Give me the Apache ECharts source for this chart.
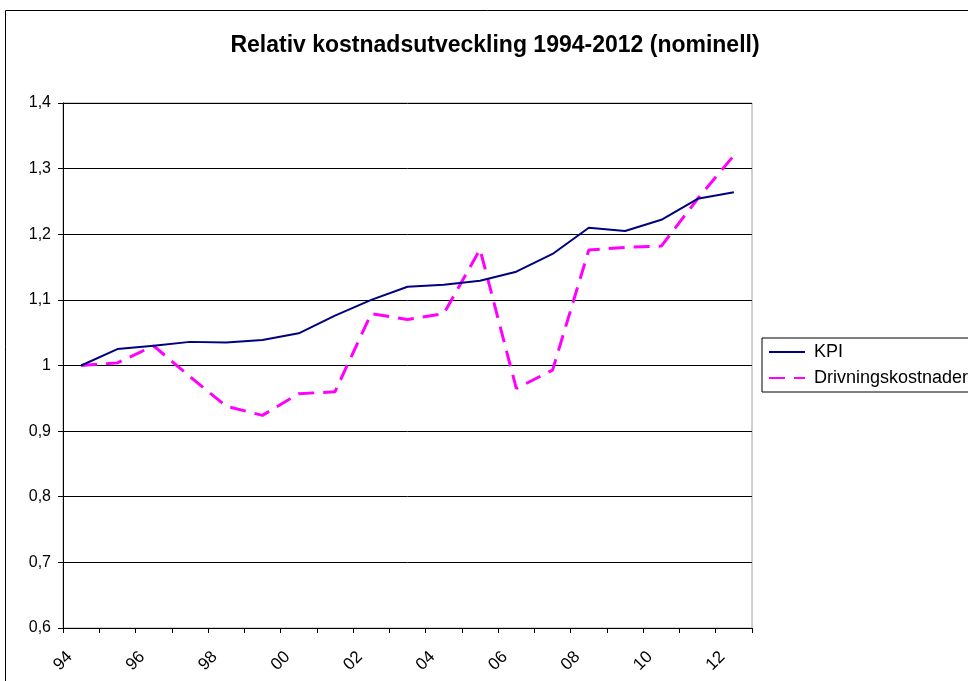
<!DOCTYPE html>
<html>
<head>
<meta charset="utf-8">
<script src="https://cdn.jsdelivr.net/npm/echarts@6/dist/echarts.min.js"></script>
<style>
html, body { margin: 0; padding: 0; background: #fff; }
#chart { width: 968px; height: 681px; }
</style>
</head>
<body>
<div id="chart"></div>
<script>
// years 1994-2012, one point per year
var years = ['94','95','96','97','98','99','00','01','02','03','04','05','06','07','08','09','10','11','12'];
// every other year is labelled on the x axis
var tickLabels = ['94','96','98','00','02','04','06','08','10','12'];

var kpi = [1.000, 1.025, 1.030, 1.036, 1.035, 1.039, 1.049, 1.076, 1.100, 1.120,
	1.123, 1.129, 1.143, 1.170, 1.210, 1.205, 1.222, 1.254, 1.264];
var drivning = [1.000, 1.004, 1.030, 0.983, 0.938, 0.924, 0.957, 0.960, 1.079, 1.070,
	1.079, 1.177, 0.965, 0.993, 1.176, 1.180, 1.182, 1.254, 1.320];

function toPoints(values) {
	// place each year in the middle of its slot
	return values.map(function (v, i) { return [i + 0.5, v]; });
}

var font = "'Liberation Sans', Arial, sans-serif";
var chart = echarts.init(document.getElementById('chart'));

chart.setOption({
	animation: false,
	backgroundColor: '#fff',
	textStyle: { fontFamily: font },
	title: {
		text: 'Relativ kostnadsutveckling 1994-2012 (nominell)',
		left: 490,
		textAlign: 'center',
		top: 29,
		textStyle: { fontFamily: font, fontSize: 23, fontWeight: 'bold', color: '#000' }
	},
	graphic: [{
		type: 'rect',
		shape: { x: 5.5, y: 10.5, width: 1000, height: 700 },
		style: { fill: 'none', stroke: '#000', lineWidth: 1 },
		silent: true
	}],
	grid: {
		left: 63, right: 216, top: 103, bottom: 53,
		show: true, borderColor: '#a0a0a0', borderWidth: 1
	},
	legend: {
		orient: 'vertical',
		left: 762,
		top: 338,
		padding: [5, 6, 5, 6],
		itemGap: 8,
		itemWidth: 36,
		itemHeight: 14,
		borderColor: '#000',
		borderWidth: 1,
		borderRadius: 0,
		itemStyle: { color: 'rgba(0,0,0,0)', borderWidth: 0, opacity: 0 },
		textStyle: { fontFamily: font, fontSize: 18, color: '#000', padding: [0, 0, 0, 4] },
		data: ['KPI', 'Drivningskostnader']
	},
	xAxis: {
		type: 'value',
		min: 0,
		max: years.length,
		interval: 1,
		axisLine: { show: true, lineStyle: { color: '#000', width: 1 } },
		axisTick: { show: true, length: 5, lineStyle: { color: '#000' } },
		splitLine: { show: false },
		axisLabel: {
			rotate: 45,
			align: 'center',
			verticalAlign: 'middle',
			margin: 33,
			fontFamily: font,
			fontSize: 17,
			color: '#000',
			formatter: function (v) {
				return v % 2 === 0 && tickLabels[v / 2] ? tickLabels[v / 2] : '';
			}
		}
	},
	yAxis: {
		type: 'value',
		min: 0.6,
		max: 1.4,
		interval: 0.1,
		axisLine: { show: true, lineStyle: { color: '#000', width: 1 } },
		axisTick: { show: true, length: 5, lineStyle: { color: '#000' } },
		splitLine: { show: true, lineStyle: { color: '#000', width: 1 } },
		axisLabel: {
			margin: 12,
			fontFamily: font,
			fontSize: 16,
			color: '#000',
			formatter: function (v) {
				return (Math.round(v * 10) / 10).toString().replace('.', ',');
			}
		}
	},
	series: [{
		name: 'KPI',
		type: 'line',
		data: toPoints(kpi),
		symbol: 'none',
		lineStyle: { color: '#000080', width: 2 },
		itemStyle: { color: '#000080' },
		z: 3
	}, {
		name: 'Drivningskostnader',
		type: 'line',
		data: toPoints(drivning),
		symbol: 'none',
		lineStyle: { color: '#ff00ff', width: 3, type: [16, 9] },
		itemStyle: { color: '#ff00ff' },
		z: 2
	}]
});
</script>
</body>
</html>
